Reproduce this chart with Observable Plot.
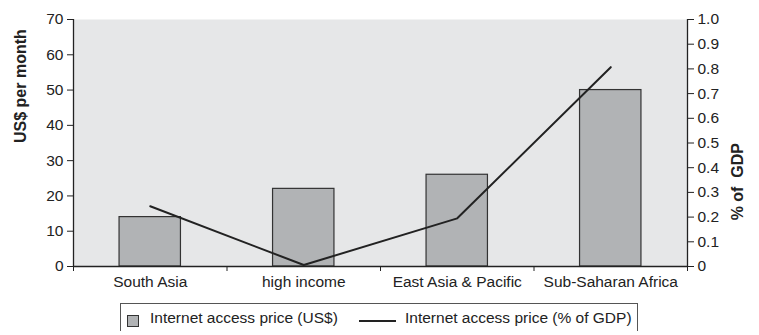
<!DOCTYPE html>
<html>
<head>
<meta charset="utf-8">
<script src="https://cdn.jsdelivr.net/npm/d3@7"></script>
<script src="https://cdn.jsdelivr.net/npm/@observablehq/plot@0.6"></script>
<style>
  body { margin: 0; background: #fff; font-family: "Liberation Sans", Arial, sans-serif; }
  #chart { width: 759px; }
  .legend { position: relative; margin-left: 120px; width: 518px; height: 28px; border: 1.5px solid #555; border-bottom: none; box-sizing: border-box; font-size: 15.5px; color: #222; }
  .legend .sw { position: absolute; left: 6px; top: 11px; width: 10px; height: 10px; background: #b1b3b5; border: 1px solid #333; }
  .legend .t1 { position: absolute; left: 29px; top: 5px; white-space: nowrap; }
  .legend .ln { position: absolute; left: 238px; top: 16px; width: 37px; height: 0; border-top: 2px solid #222; }
  .legend .t2 { position: absolute; left: 284px; top: 5px; white-space: nowrap; }
</style>
</head>
<body>
<div id="chart"></div>
<script>
const categories = ["South Asia", "high income", "East Asia & Pacific", "Sub-Saharan Africa"];
const priceUSD = [14, 22, 26, 50];
const pricePctGDP = [0.244, 0.006, 0.195, 0.807];
const leftTicks = [0, 10, 20, 30, 40, 50, 60, 70];
const rightTicks = [0, 0.1, 0.2, 0.3, 0.4, 0.5, 0.6, 0.7, 0.8, 0.9, 1.0];
const rightLabels = ["0", "0.1", "0.2", "0.3", "0.4", "0.5", "0.6", "0.7", "0.8", "0.9", "1.0"];

const leftMax = 70, rightMax = 1.0;
const toLeft = v => v * leftMax / rightMax;

const data = categories.map((c, i) => ({cat: c, i, usd: priceUSD[i], pct: pricePctGDP[i]}));

const FS = 15.5;
const chart = Plot.plot({
  width: 759,
  height: 303,
  marginLeft: 73,
  marginRight: 72,
  marginTop: 19,
  marginBottom: 37,
  style: {fontFamily: "Liberation Sans, Arial, sans-serif", fontSize: "15.5px", color: "#222", background: "#fff"},
  x: {domain: [0, categories.length], axis: null},
  y: {domain: [0, leftMax], axis: null},
  marks: [
    Plot.frame({fill: "#e6e7e8", stroke: null}),
    Plot.rectY(data, {x1: d => d.i + 0.3, x2: d => d.i + 0.7, y1: 0, y2: "usd", fill: "#b1b3b5", stroke: "#333", strokeWidth: 1.2}),
    Plot.line(data, {x: d => d.i + 0.5, y: d => toLeft(d.pct), stroke: "#222", strokeWidth: 2}),
    Plot.ruleX([0, categories.length], {stroke: "#222", strokeWidth: 1.3}),
    Plot.ruleY([0], {stroke: "#222", strokeWidth: 1.3}),
    Plot.axisY({anchor: "left", ticks: leftTicks, tickSize: 6, tickPadding: 4, label: null, stroke: "#222", fontSize: FS}),
    Plot.axisY({anchor: "right", ticks: rightTicks.map(toLeft), tickSize: 6, tickPadding: 4, label: null, fontSize: FS,
      tickFormat: v => rightLabels[Math.round(v / toLeft(0.1))], stroke: "#222"}),
    Plot.axisX({anchor: "bottom", ticks: d3.range(categories.length + 1), tickSize: 5, tickFormat: () => "", label: null, stroke: "#222"}),
    Plot.axisX({anchor: "bottom", ticks: categories.map((c, i) => i + 0.5), tickSize: 0, tickPadding: 9, label: null, fontSize: FS,
      tickFormat: v => categories[Math.round(v - 0.5)]}),
    Plot.text(["US$ per month"], {frameAnchor: "left", rotate: -90, dx: -53, fontWeight: "bold", fontSize: 16}),
    Plot.text(["% of  GDP"], {frameAnchor: "right", rotate: -90, dx: 50, fontWeight: "bold", fontSize: 16})
  ]
});
document.getElementById("chart").appendChild(chart);

const legend = document.createElement("div");
legend.className = "legend";
legend.innerHTML = '<div class="sw"></div><div class="t1">Internet access price (US$)</div><div class="ln"></div><div class="t2">Internet access price (% of GDP)</div>';
document.body.appendChild(legend);
</script>
</body>
</html>
